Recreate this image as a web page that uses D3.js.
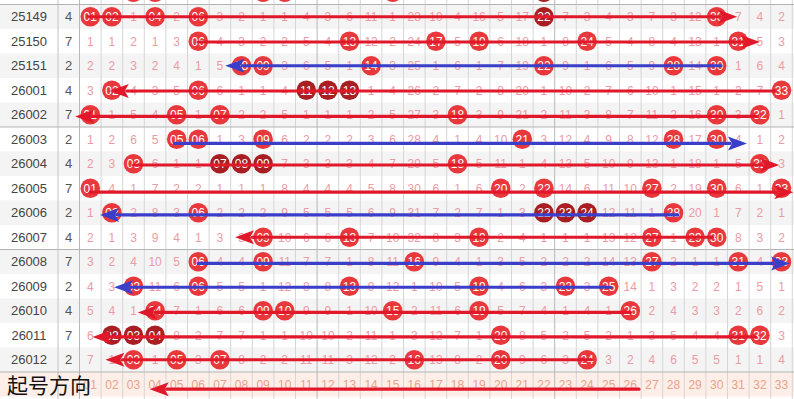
<!DOCTYPE html>
<html><head><meta charset="utf-8">
<script src="https://cdn.jsdelivr.net/npm/d3@7/dist/d3.min.js"></script>
<style>html,body{margin:0;padding:0;background:#fff;}svg{display:block;}</style>
</head><body><svg id="c" width="794" height="399"></svg>
<script>
// ---- data ----
const issues = ["25149","25150","25151","26001","26002","26003","26004","26005","26006","26007","26008","26009","26010","26011","26012"];
const spans  = [4,7,2,4,7,2,4,7,2,4,7,2,4,7,2];
// 0 = number drawn in that issue (shown as ball), otherwise omission count
const miss = [
 [0,0,1,0,2,0,3,2,1,1,4,3,6,11,1,23,10,4,16,5,17,0,7,3,4,3,7,3,12,0,7,4,2],
 [1,1,2,1,3,0,4,3,2,2,5,4,0,12,2,24,0,5,0,6,18,1,8,0,5,4,8,4,13,1,0,5,3],
 [2,2,3,2,4,1,5,0,0,3,6,5,1,0,3,25,1,6,1,7,19,0,9,1,6,5,9,0,14,0,1,6,4],
 [3,0,4,3,5,0,6,1,1,4,0,0,0,1,4,26,2,7,2,8,20,1,10,2,7,6,10,1,15,1,2,7,0],
 [0,1,5,4,0,1,0,2,2,5,1,1,1,2,5,27,3,0,3,9,21,2,11,3,8,7,11,2,16,0,3,0,1],
 [1,2,6,5,0,0,1,3,0,6,2,2,2,3,6,28,4,1,4,10,0,3,12,4,9,8,12,0,17,0,4,1,2],
 [2,3,0,6,1,1,0,0,0,7,3,3,3,4,7,29,5,0,5,11,1,4,13,5,10,9,13,1,18,1,5,0,3],
 [0,4,1,7,2,2,1,1,1,8,4,4,4,5,8,30,6,1,6,0,2,0,14,6,11,10,0,2,19,0,6,1,0],
 [1,0,2,8,3,0,2,2,2,9,5,5,5,6,9,31,7,2,7,1,3,0,0,0,12,11,1,0,20,1,7,2,1],
 [2,1,3,9,4,1,3,3,0,10,6,6,0,7,10,32,8,3,0,2,4,1,1,1,13,12,0,1,0,0,8,3,2],
 [3,2,4,10,5,0,4,4,0,11,7,7,1,8,11,0,9,4,1,3,5,2,2,2,14,13,0,2,1,1,0,4,0],
 [4,3,0,11,6,0,5,5,1,12,8,8,0,9,12,1,10,5,0,4,6,3,0,3,0,14,1,3,2,2,1,5,1],
 [5,4,1,0,7,1,6,6,0,0,9,9,1,10,0,2,11,6,0,5,7,4,1,4,1,0,2,4,3,3,2,6,2],
 [6,0,0,0,8,2,7,7,1,1,10,10,2,11,1,3,12,7,1,0,8,5,2,5,2,1,3,5,4,4,0,0,3],
 [7,1,0,1,0,3,0,8,2,2,11,11,3,12,2,0,13,8,2,0,9,6,3,0,3,2,4,6,5,5,1,1,4]
];
const prevDraw = [3,4,9,10,15,22];      // issue 25148 (only ball bottoms visible at top)
const darkBalls = {"-1":[22], "0":[22], "3":[11,12,13], "6":[7,8,9], "8":[22,23,24], "13":[2,3,4]};
const footLabels = d3.range(1,34).map(n => String(n).padStart(2,"0"));
// direction arrows: row index (15 = footer row), from/to in column units
const arrows = [
 {row:0,  from:0.9,  to:30.95, c:"r", dy:0.0},
 {row:1,  from:6,    to:32.0,  c:"r", dy:0.03},
 {row:2,  from:30.2, to:7.25,  c:"b", dy:0.0},
 {row:3,  from:32.7, to:1.9,   c:"r", dy:0.03},
 {row:4,  from:31.9, to:0.3,   c:"r", dy:0.07},
 {row:5,  from:4.9,  to:31.4,  c:"b", dy:0.17},
 {row:6,  from:3,    to:32.9,  c:"r", dy:0.05},
 {row:7,  from:1,    to:33.55, c:"r", dy:0.16},
 {row:8,  from:28.2, to:1.45,  c:"b", dy:0.09},
 {row:9,  from:29.8, to:7.7,   c:"r", dy:0.0},
 {row:10, from:6,    to:33.4,  c:"b", dy:0.07},
 {row:11, from:25.1, to:2.1,   c:"b", dy:0.04},
 {row:12, from:26,   to:3.2,   c:"r", dy:0.07},
 {row:13, from:31.8, to:1.1,   c:"r", dy:0.07},
 {row:14, from:24.2, to:1.7,   c:"r", dy:0.0},
 {row:15, from:26.4, to:3.75,  c:"r", dy:0.2}
];

// ---- layout ----
const svg = d3.select("#c");
const W = 794, H = 399;
const x = d3.scaleLinear().domain([0.5, 33.5]).range([79.5, 792.3]);   // column edges/centres
const y = d3.scaleLinear().domain([0, 15]).range([4.5, 372]);           // row tops
const rh = y(1) - y(0);
const R = 9.8;
const RED = "#e8383c", DARK = "#a81e22";
const FONT = "'Liberation Sans', Arial, sans-serif";

// row backgrounds (including partial row above)
const bgRows = d3.range(-1, 15);
svg.append("g").selectAll("rect").data(bgRows).join("rect")
  .attr("x", 0).attr("y", d => y(d)).attr("width", W).attr("height", rh)
  .attr("fill", d => (d % 2 === 0 ? "#f4f4f4" : "#ffffff"));
svg.append("rect").attr("x", 0).attr("y", y(15)).attr("width", W).attr("height", rh)
  .attr("fill", "#fdeee8");

// grid lines
const gGrid = svg.append("g");
const vlines = d3.range(0, 34).map(i => x(i + 0.5));
gGrid.selectAll("line.v").data(vlines).join("line")
  .attr("x1", d => d).attr("x2", d => d).attr("y1", 0).attr("y2", H)
  .attr("stroke", (d, i) => (i === 0 || i === 11 || i === 22) ? "#b8b8b8" : "#d6d6d6")
  .attr("stroke-width", 1);
gGrid.append("line").attr("x1", 58).attr("x2", 58).attr("y1", 0).attr("y2", H)
  .attr("stroke", "#c4c4c4");
gGrid.selectAll("line.h").data([0, 5, 10, 15]).join("line")
  .attr("x1", 0).attr("x2", W).attr("y1", d => y(d)).attr("y2", d => y(d))
  .attr("stroke", "#b4b4b4").attr("stroke-width", 1);

// issue & span columns
const gTxt = svg.append("g").attr("font-family", FONT);
gTxt.selectAll("text.iss").data(issues).join("text")
  .attr("x", 29).attr("y", (d, i) => y(i) + rh / 2 + 4.5)
  .attr("text-anchor", "middle").attr("font-size", 13).attr("fill", "#444").text(d => d);
gTxt.selectAll("text.sp").data(spans).join("text")
  .attr("x", 68.7).attr("y", (d, i) => y(i) + rh / 2 + 4.5)
  .attr("text-anchor", "middle").attr("font-size", 13).attr("fill", "#555").text(d => d);

// cells
const cells = [];
miss.forEach((row, r) => row.forEach((v, c) => cells.push({r, c: c + 1, v})));
prevDraw.forEach(n => cells.push({r: -1, c: n, v: 0}));
const isDark = d => (darkBalls[String(d.r)] || []).includes(d.c);

svg.append("g").attr("font-family", FONT)
  .selectAll("text").data(cells.filter(d => d.v > 0)).join("text")
  .attr("x", d => x(d.c)).attr("y", d => y(d.r) + rh / 2 + 4.3)
  .attr("text-anchor", "middle").attr("font-size", 12).attr("fill", "#eb9ba3")
  .text(d => d.v);

const balls = cells.filter(d => d.v === 0);
const gBall = svg.append("g").attr("font-family", FONT);
gBall.selectAll("circle").data(balls).join("circle")
  .attr("cx", d => x(d.c)).attr("cy", d => y(d.r) + rh / 2).attr("r", R)
  .attr("fill", d => isDark(d) ? DARK : RED);
gBall.selectAll("text").data(balls.filter(d => d.r >= 0)).join("text")
  .attr("x", d => x(d.c)).attr("y", d => y(d.r) + rh / 2 + 4.3)
  .attr("text-anchor", "middle").attr("font-size", 12).attr("fill", "#fff")
  .text(d => String(d.c).padStart(2, "0"));

// footer labels
svg.append("g").attr("font-family", FONT).selectAll("text").data(footLabels).join("text")
  .attr("x", (d, i) => x(i + 1)).attr("y", y(15) + rh / 2 + 4.5)
  .attr("text-anchor", "middle").attr("font-size", 12).attr("fill", "#e9a28c").text(d => d);

// arrows
const colors = {r: "#e0182a", b: "#3a3ec8"};
const gArr = svg.append("g");
arrows.forEach(a => {
  const x0 = x(a.from), x1 = x(a.to);
  const yy = y(a.row) + rh / 2 + a.dy * rh;
  const dir = x1 > x0 ? 1 : -1;
  const L = 19, Hw = 7, notch = 4;
  gArr.append("line").attr("x1", x0).attr("x2", x1 - dir * (L - 2)).attr("y1", yy).attr("y2", yy)
    .attr("stroke", colors[a.c]).attr("stroke-width", 3.2).attr("stroke-linecap", "round");
  const pts = [[x1, yy], [x1 - dir * L, yy - Hw], [x1 - dir * (L - notch), yy], [x1 - dir * L, yy + Hw]];
  gArr.append("polygon").attr("points", pts.map(p => p.join(",")).join(" "))
    .attr("fill", colors[a.c]);
});

// caption
svg.append("text").attr("x", 7).attr("y", 393)
  .attr("font-family", "'Noto Sans CJK SC', sans-serif").attr("font-size", 21)
  .attr("fill", "#111").text("起号方向");
</script></body></html>
